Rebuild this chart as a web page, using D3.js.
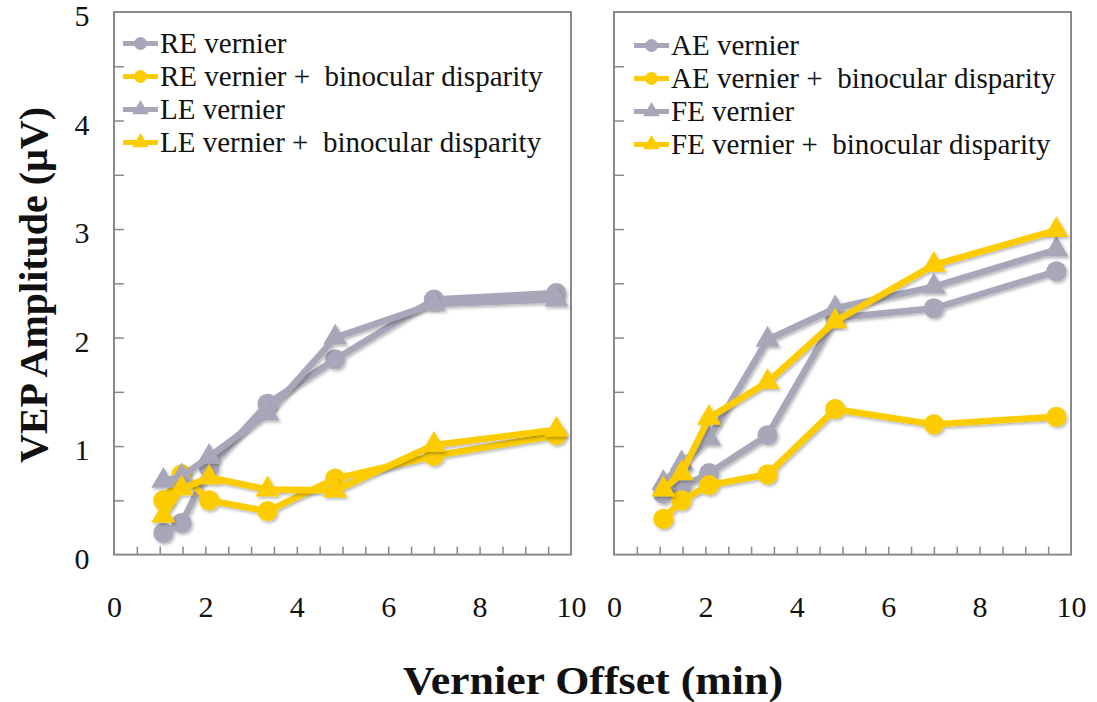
<!DOCTYPE html>
<html>
<head>
<meta charset="utf-8">
<script src="https://cdn.jsdelivr.net/npm/d3@7/dist/d3.min.js"></script>
</head>
<body style="margin:0;background:#fff">
<svg id="chart" width="1097" height="702" style="display:block"></svg>
<script>
// ---- data ----
const vernierOffsets = [1.08, 1.48, 2.08, 3.36, 4.84, 7.0, 9.68];

const reVernier    = [0.20, 0.29, 0.80, 1.39, 1.80, 2.35, 2.41];
const reVernierBin = [0.50, 0.74, 0.50, 0.40, 0.70, 0.91, 1.10];
const leVernier    = [0.68, 0.72, 0.90, 1.30, 2.00, 2.31, 2.35];
const leVernierBin = [0.36, 0.61, 0.71, 0.60, 0.59, 1.01, 1.15];

const aeVernier    = [0.56, 0.62, 0.75, 1.10, 2.18, 2.27, 2.61];
const aeVernierBin = [0.33, 0.50, 0.64, 0.74, 1.34, 1.20, 1.27];
const feVernier    = [0.66, 0.84, 1.07, 1.98, 2.27, 2.47, 2.81];
const feVernierBin = [0.60, 0.75, 1.26, 1.59, 2.15, 2.67, 2.99];

const leftLabels  = ["RE vernier", "RE vernier +\u00a0 binocular disparity", "LE vernier", "LE vernier +\u00a0 binocular disparity"];
const rightLabels = ["AE vernier", "AE vernier +\u00a0 binocular disparity", "FE vernier", "FE vernier +\u00a0 binocular disparity"];

const xTicks = [0, 2, 4, 6, 8, 10];
const yTicks = [0, 1, 2, 3, 4, 5];

const xTitle = "Vernier Offset (min)";
const yTitle = "VEP Amplitude (\u03bcV)";

// ---- style ----
const GREY = "#a7a7b9";
const YELLOW = "#fccc00";
const FONT_BOLD = "\"Liberation Serif\"";
const FONT_REG = "\"Tinos\"";

const svg = d3.select("#chart");
const defs = svg.append("defs");
const f = defs.append("filter").attr("id", "shadow").attr("x", "-30%").attr("y", "-30%").attr("width", "160%").attr("height", "160%");
f.append("feDropShadow").attr("dx", 1.5).attr("dy", 2).attr("stdDeviation", 1.6)
  .attr("flood-color", "#000").attr("flood-opacity", 0.28);

const plotTop = 12, plotBottom = 554.6;
const y = d3.scaleLinear().domain([0, 5]).range([plotBottom, plotTop]);

const panels = [
  { x0: 114, x1: 571, legendX: 123, legendY: 43.5, labels: leftLabels,
    series: [reVernier, reVernierBin, leVernier, leVernierBin] },
  { x0: 614, x1: 1071, legendX: 634, legendY: 45.5, labels: rightLabels,
    series: [aeVernier, aeVernierBin, feVernier, feVernierBin] }
];
const seriesStyle = [
  { color: GREY, shape: "circle" },
  { color: YELLOW, shape: "circle" },
  { color: GREY, shape: "triangle" },
  { color: YELLOW, shape: "triangle" }
];
const symbolFor = (shape, big) => d3.symbol()
  .type(shape === "circle" ? d3.symbolCircle : d3.symbolTriangle)
  .size(shape === "circle" ? (big ? 320 : 130) : (big ? 250 : 120))();

const regText = (sel, size) => sel.style("font-family", FONT_REG).style("font-size", size + "px")
  .attr("fill", "#111");

panels.forEach((p, pi) => {
  const x = d3.scaleLinear().domain([0, 10]).range([p.x0, p.x1]);
  const g = svg.append("g");

  // frame
  g.append("rect").attr("x", p.x0).attr("y", plotTop).attr("width", p.x1 - p.x0).attr("height", plotBottom - plotTop)
    .attr("fill", "#fff").attr("stroke", "#8a8a8a").attr("stroke-width", 2);

  // y ticks (inward, every 0.5)
  const yAxis = d3.axisRight(y).tickValues(d3.range(0.5, 5, 0.5)).tickSize(10).tickFormat("");
  g.append("g").attr("transform", `translate(${p.x0},0)`).call(yAxis)
    .call(s => s.select(".domain").remove())
    .call(s => s.selectAll("line").attr("stroke", "#8a8a8a").attr("stroke-width", 1.5));

  // x ticks (inward, every 0.5)
  const xAxis = d3.axisTop(x).tickValues(d3.range(0.5, 10, 0.5)).tickSize(8).tickFormat("");
  g.append("g").attr("transform", `translate(0,${plotBottom})`).call(xAxis)
    .call(s => s.select(".domain").remove())
    .call(s => s.selectAll("line").attr("stroke", "#8a8a8a").attr("stroke-width", 1.5));

  // x tick labels
  const xl = d3.axisBottom(x).tickValues(xTicks).tickSize(0).tickPadding(0).tickFormat(d3.format("d"));
  g.append("g").attr("transform", `translate(0,${plotBottom + 52})`).call(xl)
    .attr("font-family", null).attr("font-size", null)
    .call(s => s.select(".domain").remove())
    .call(s => s.selectAll("text").attr("dy", "0.35em").call(regText, 30));

  // y tick labels (left panel only)
  if (pi === 0) {
    const yl = d3.axisLeft(y).tickValues(yTicks).tickSize(0).tickPadding(0).tickFormat(d3.format("d"));
    g.append("g").attr("transform", `translate(${p.x0 - 32},3)`).call(yl)
      .attr("font-family", null).attr("font-size", null)
      .call(s => s.select(".domain").remove())
      .call(s => s.selectAll("text").attr("text-anchor", "middle").attr("dy", "0.35em").call(regText, 30));
  }

  // series
  const line = d3.line().x((d, i) => x(vernierOffsets[i])).y(d => y(d));
  p.series.forEach((vals, si) => {
    const st = seriesStyle[si];
    const sg = g.append("g").attr("filter", "url(#shadow)");
    sg.append("path").attr("d", line(vals)).attr("fill", "none").attr("stroke", st.color)
      .attr("stroke-width", 6.5).attr("stroke-linejoin", "round");
    sg.selectAll("path.m").data(vals).enter().append("path").attr("class", "m")
      .attr("d", symbolFor(st.shape, true))
      .attr("transform", (d, i) => `translate(${x(vernierOffsets[i])},${y(d)})`)
      .attr("fill", st.color);
  });

  // legend
  const lg = g.append("g");
  p.labels.forEach((lab, li) => {
    const st = seriesStyle[li];
    const ly = p.legendY + li * 33;
    lg.append("line").attr("x1", p.legendX).attr("x2", p.legendX + 35).attr("y1", ly).attr("y2", ly)
      .attr("stroke", st.color).attr("stroke-width", 5);
    lg.append("path").attr("d", symbolFor(st.shape, false))
      .attr("transform", `translate(${p.legendX + 17.5},${ly})`).attr("fill", st.color);
    lg.append("text").attr("x", p.legendX + 37).attr("y", ly).attr("dy", "0.33em")
      .call(regText, 29).text(lab);
  });
});

// axis titles
svg.append("text").attr("x", 593).attr("y", 680).attr("dy", "0.35em").attr("text-anchor", "middle")
  .attr("fill", "#111").style("font-family", FONT_BOLD).style("font-size", "40px").style("font-weight", "bold")
  .attr("textLength", 380).attr("lengthAdjust", "spacingAndGlyphs")
  .text(xTitle);
svg.append("text").attr("transform", "translate(33,285) rotate(-90)").attr("dy", "0.35em").attr("text-anchor", "middle")
  .attr("fill", "#111").style("font-family", FONT_BOLD).style("font-size", "40px").style("font-weight", "bold")
  .text(yTitle);
</script>
</body>
</html>
